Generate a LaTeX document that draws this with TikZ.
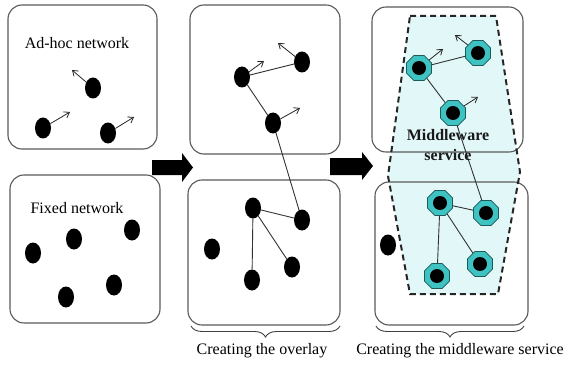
\documentclass[tikz,border=0pt]{standalone}
\usepackage{fontspec}
\setmainfont{Liberation Serif}
\usetikzlibrary{shapes.geometric,decorations.pathreplacing,arrows.meta}
\definecolor{octcyan}{HTML}{3FC2C2}
\definecolor{octedge}{HTML}{1D5A5A}
\definecolor{mwfill}{HTML}{E2F8F8}
\begin{document}
\begin{tikzpicture}[x=1pt,y=-1pt,
 panel/.style={draw=black!65,line width=1.1pt,rounded corners=14pt},
 dot/.style={ellipse,fill=black,minimum width=16pt,minimum height=21pt,inner sep=0pt},
 oct/.style={regular polygon,regular polygon sides=8,minimum size=27pt,inner sep=0pt,fill=octcyan,draw=octedge,line width=0.8pt,
   path picture={\fill[black] (path picture bounding box.center) circle (7pt);}},
 link/.style={draw=black!80,line width=0.9pt},
 mv/.style={-{Straight Barb[length=5pt,width=7pt]},line width=0.8pt,draw=black!85},
 lbl/.style={font=\fontsize{16}{18}\selectfont,inner sep=0pt},
 mwlbl/.style={font=\bfseries\fontsize{16}{18}\selectfont,inner sep=0pt,text=black!90},
 bigarrow/.style={fill=black},
 brc/.style={decorate,decoration={brace,mirror,amplitude=11pt},draw=black!75,line width=0.9pt}
]
\useasboundingbox (0,0) rectangle (571,369);

% middleware region fill
\fill[mwfill] (410,16) -- (496,16) -- (520,172) -- (498,294) -- (410,294) -- (388,176) -- cycle;

% panels
\draw[panel] (8,5) rectangle (157,149);
\draw[panel] (10,175) rectangle (160,323);
\draw[panel] (190,5) rectangle (340,154);
\draw[panel] (188,180) rectangle (340,325);
\draw[panel] (372,7) rectangle (523,152);
\draw[panel] (375,182) rectangle (528,325);

% dashed border of middleware region
\draw[black!85,line width=2pt,dash pattern=on 6pt off 4pt] (410,16) -- (496,16) -- (520,172) -- (498,294) -- (410,294) -- (388,176) -- cycle;

% big arrows
\fill[bigarrow] (152,160) -- (182,160) -- (182,153) -- (193,167.5) -- (182,182) -- (182,175) -- (152,175) -- cycle;
\fill[bigarrow] (330,158) -- (362,158) -- (362,152) -- (373,166) -- (362,180) -- (362,175) -- (330,175) -- cycle;

% labels
\node[lbl] (tadhoc) at (77,43) {Ad-hoc network};
\node[lbl] (tfixed) at (77,208) {Fixed network};

% panel 1 nodes
\node[dot] (a1) at (93,88) {};
\node[dot] (a2) at (43,128) {};
\node[dot] (a3) at (108,133) {};
\coordinate (a1m) at (72,70);
\coordinate (a2m) at (70,112);
\coordinate (a3m) at (134,117);
\draw[mv] (a1) -- (a1m);
\draw[mv] (a2) -- (a2m);
\draw[mv] (a3) -- (a3m);

\node[dot] (f1) at (33,253) {};
\node[dot] (f2) at (74,239) {};
\node[dot] (f3) at (132,230) {};
\node[dot] (f4) at (114,285) {};
\node[dot] (f5) at (66,297) {};

% panel 2 nodes
\node[dot] (b1) at (242,77) {};
\node[dot] (b2) at (302,62) {};
\node[dot] (b3) at (273,123) {};
\node[dot] (c1) at (253,208) {};
\node[dot] (c2) at (302,220) {};
\node[dot] (c3) at (212,249) {};
\node[dot] (c4) at (292,267) {};
\node[dot] (c5) at (252,280) {};
\coordinate (b1m) at (264,61);
\coordinate (b2m) at (278,43);
\coordinate (b3m) at (300,108);
\draw[mv] (b1) -- (b1m);
\draw[mv] (b2) -- (b2m);
\draw[mv] (b3) -- (b3m);
\draw[link] (b1) -- (b2);
\draw[link] (b1) -- (b3);
\draw[link] (b3) -- (c2);
\draw[link] (c1) -- (c2);
\draw[link] (c1) -- (c5);
\draw[link] (c1) -- (c4);

% panel 3 nodes
\node[oct] (d1) at (419,68) {};
\node[oct] (d2) at (478,53) {};
\node[oct] (d3) at (453,113) {};
\node[oct] (e1) at (440,203) {};
\node[oct] (e2) at (486,213) {};
\node[dot] (e3) at (388,245) {};
\node[oct] (e4) at (480,264) {};
\node[oct] (e5) at (437,276) {};
\coordinate (d1m) at (443,49);
\coordinate (d2m) at (455,35);
\coordinate (d3m) at (478,97);
\draw[mv] (d1) -- (d1m);
\draw[mv] (d2) -- (d2m);
\draw[mv] (d3) -- (d3m);
\draw[link] (d1) -- (d2);
\draw[link] (d1) -- (d3);
\draw[link] (d3) -- (e2);
\draw[link] (e1) -- (e2);
\draw[link] (e1) -- (e5);
\draw[link] (e1) -- (e4);

\node[mwlbl] (mw1) at (448,135) {Middleware};
\node[mwlbl] (mw2) at (448,155) {service};

% braces and captions
\coordinate (br1l) at (191,326);
\coordinate (br1r) at (340,326);
\coordinate (br2l) at (376,326);
\coordinate (br2r) at (524,326);
\draw[brc] (br1l) -- (br1r);
\draw[brc] (br2l) -- (br2r);
\node[lbl] (cap1) at (262,351) {Creating the overlay};
\node[lbl] (cap2) at (460,351) {Creating the middleware service};
\end{tikzpicture}
\end{document}
